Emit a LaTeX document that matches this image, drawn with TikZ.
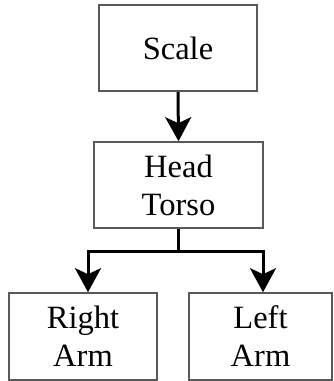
\documentclass[tikz,border=0pt]{standalone}
\usepackage{fontspec}
\setmainfont{Liberation Serif}
\usetikzlibrary{arrows.meta}

\tikzset{
    part/.style={draw=black!65, line width=1.6pt, rectangle, align=center,
        inner sep=0pt, font=\fontsize{32.5}{38}\selectfont},
    arr/.style={line width=3pt, -{Stealth[length=24pt,width=26pt,inset=6pt]}}
}

\begin{document}
\begin{tikzpicture}[x=1pt,y=-1pt]
        \useasboundingbox (0,0) rectangle (333,381);

        % Body parts
        \node[part, minimum width=158pt, minimum height=86pt] (scale) at (178,48) {Scale};
        \node[part, minimum width=169pt, minimum height=86pt] (torso) at (178.5,185) {Head\\Torso};
        \node[part, minimum width=148pt, minimum height=87pt] (rarm) at (83,336.5) {Right\\Arm};
        \node[part, minimum width=143pt, minimum height=87pt] (larm) at (260.5,336.5) {Left\\Arm};

        % Scale -> torso
        \draw[arr] (scale.south) -- (torso.north);

        % Split to the arms
        \coordinate (split) at ([yshift=-23pt]torso.south);
        \draw[line width=3pt] (torso.south) -- (split);
        \draw[arr] (split) -| ([xshift=5pt]rarm.north);
        \draw[arr] (split) -| ([xshift=2.5pt]larm.north);
    \end{tikzpicture}
\end{document}
